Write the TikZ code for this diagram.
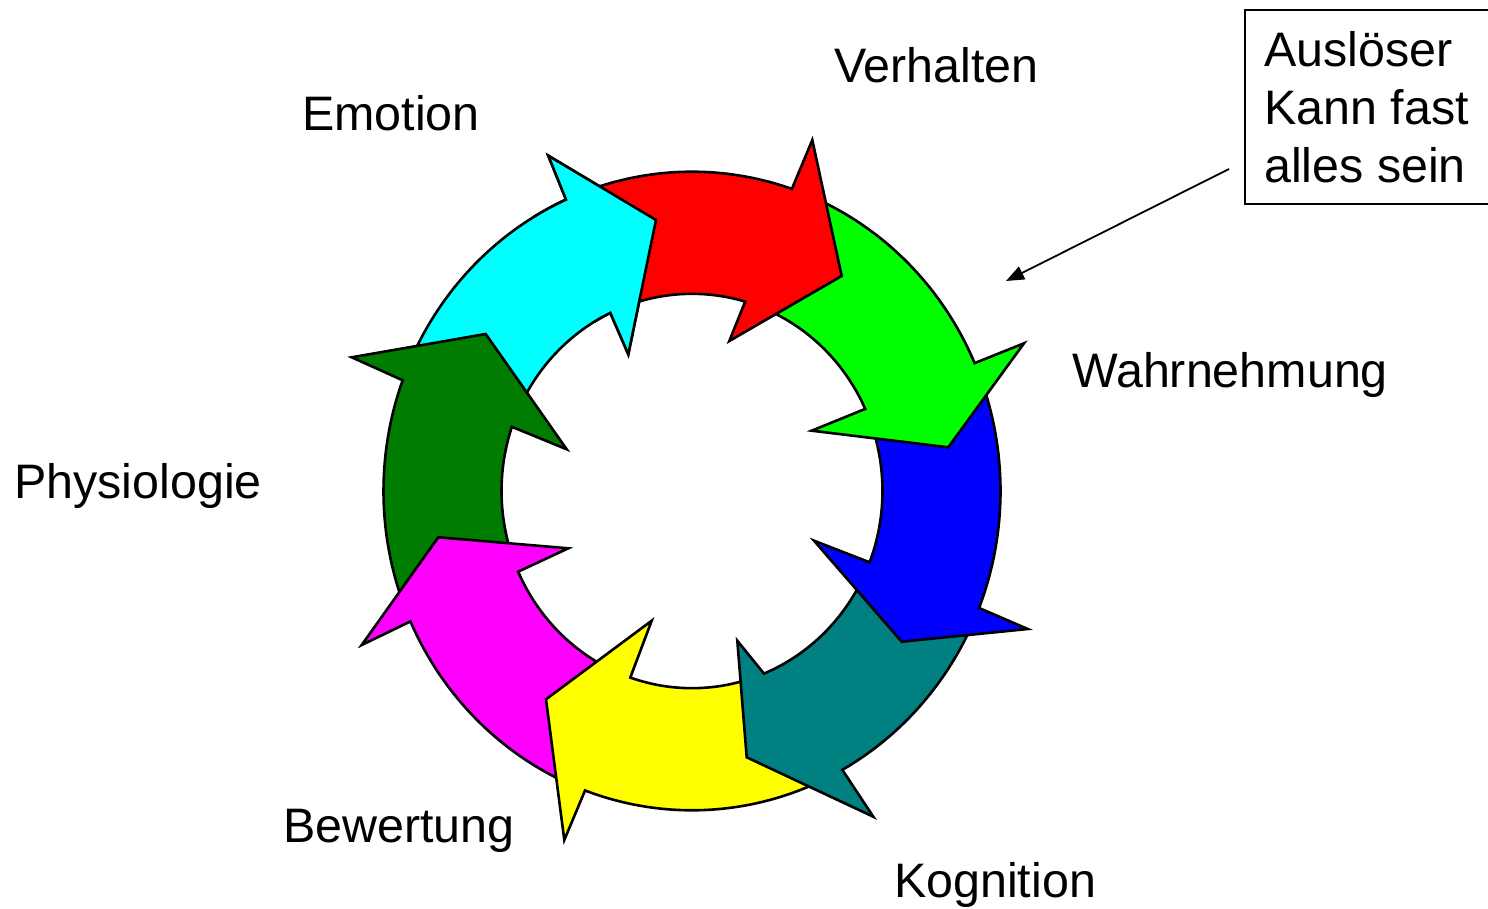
\documentclass[tikz,border=0pt]{standalone}
\usepackage{fontspec}
\setmainfont{Liberation Sans}
\usetikzlibrary{arrows.meta}
\definecolor{cCyan}{RGB}{0,255,255}
\definecolor{cRed}{RGB}{255,0,0}
\definecolor{cGreen}{RGB}{0,255,0}
\definecolor{cBlue}{RGB}{0,0,255}
\definecolor{cTeal}{RGB}{0,128,128}
\definecolor{cYellow}{RGB}{255,255,0}
\definecolor{cMagenta}{RGB}{255,0,255}
\definecolor{cDkGreen}{RGB}{0,125,0}
% #1 colour, #2 tail outer angle, #3 tail inner angle, #4 notch outer angle,
% #5 notch inner angle, #6 outer wing, #7 tip, #8 inner wing
\newcommand\ringarrow[8]{%
  \path[ringarr,fill=#1]
    plot[domain=0:1,samples=40] ({692+308.5*cos(#2+(#4-#2)*\x)},{491+319.3*sin(#2+(#4-#2)*\x)})
    -- #6 -- #7 -- #8 --
    plot[domain=0:1,samples=40] ({692+190.5*cos(#5+(#3-#5)*\x)},{491+197.2*sin(#5+(#3-#5)*\x)})
    -- cycle;}
\begin{document}
\begin{tikzpicture}[x=1pt,y=-1pt,
  ringarr/.style={draw=black,line width=2.6pt,line join=miter},
  lbl/.style={inner sep=0pt,anchor=base west,font=\fontsize{48.4}{58}\selectfont},
  boxline/.style={draw=black,line width=1.8pt},
  pointer/.style={draw=black,line width=1.8pt,-{Triangle[length=18pt,width=14pt]}}]
\clip (0,0) rectangle (1488,909);
\fill[white] (0,0) rectangle (1488,909);
% ring of arrows
\ringarrow{cCyan}{203.3}{202.0}{245.9}{244.6}{(548.3,155.7)}{(656,220)}{(628.3,354.3)}
\ringarrow{cDkGreen}{518.9}{518.85}{560.3}{559.0}{(351.7,357.3)}{(485.7,334)}{(566.7,449.3)}
\ringarrow{cMagenta}{473.3}{471.9}{515.9}{515.85}{(361.7,645)}{(438.3,537.3)}{(568.3,548.3)}
\ringarrow{cYellow}{423.85}{430.8}{470.3}{468.9}{(564.3,840)}{(546,699.3)}{(651.7,620.7)}
\ringarrow{cTeal}{384.5}{384.2}{420.85}{427.8}{(873.3,816.7)}{(746.7,757.3)}{(737.3,640.7)}
\ringarrow{cBlue}{339.4}{338.4}{381.5}{381.2}{(1027.7,629)}{(901.7,641.7)}{(814,540.7)}
\ringarrow{cGreen}{291.9}{289.2}{336.4}{335.4}{(1024,343.3)}{(948.3,447.3)}{(811.7,430.7)}
\ringarrow{cRed}{248.9}{247.6}{288.9}{286.2}{(812.3,140)}{(841.7,276)}{(729.3,341)}
% cyan head again, on top of the red tail
\begin{scope}
  \clip (692,491) -- (392,-28.6) -- (796.2,-99.9) -- cycle;
  \ringarrow{cCyan}{203.3}{202.0}{245.9}{244.6}{(548.3,155.7)}{(656,220)}{(628.3,354.3)}
\end{scope}
% labels
\node[lbl] (verhalten) at (834,83) {Verhalten};
\node[lbl] (emotion) at (302,131) {Emotion};
\node[lbl] (wahrnehmung) at (1072,387) {Wahrnehmung};
\node[lbl] (physiologie) at (14,498) {Physiologie};
\node[lbl] (bewertung) at (283,842) {Bewertung};
\node[lbl] (kognition) at (894,897) {Kognition};
% trigger box
\draw[boxline] (1245,10) rectangle (1520,204);
\node[lbl] (ausl1) at (1264,67) {Auslöser};
\node[lbl] (ausl2) at (1264,125) {Kann fast};
\node[lbl] (ausl3) at (1264,183) {alles sein};
\coordinate (pstart) at (1229,169);
\coordinate (pend) at (1006,281);
\draw[pointer] (pstart) -- (pend);
\end{tikzpicture}
\end{document}
